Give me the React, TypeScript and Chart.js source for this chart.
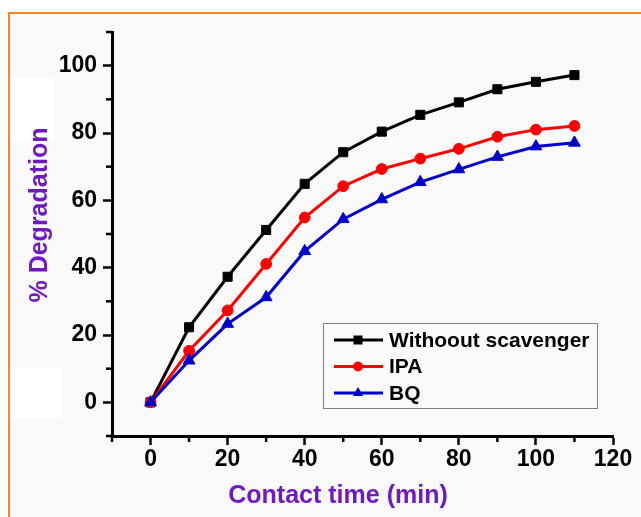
import React, { useEffect, useRef } from "react";
import { Chart, registerables } from "chart.js";

Chart.register(...registerables);

const contactTime = [0, 10, 20, 30, 40, 50, 60, 70, 80, 90, 100, 110];
const withoutScavenger = [0, 22.3, 37.3, 51.2, 64.9, 74.3, 80.4, 85.4, 89.1, 93.0, 95.2, 97.2];
const ipa = [0, 15.3, 27.3, 41.1, 54.9, 64.2, 69.3, 72.4, 75.3, 78.9, 81.0, 82.1];
const bq = [0, 12.4, 23.3, 31.2, 44.9, 54.4, 60.3, 65.4, 69.2, 72.9, 76.0, 77.1];
const seriesNames = ["Withoout scavenger", "IPA", "BQ"];
const seriesColors = ["#000000", "#ff0000", "#0000cc"];
const seriesMarkers = ["rect", "circle", "triangle"];
const markerRadius = [6.4, 5.4, 6.8];

const xTitle = "Contact time (min)";
const yTitle = "% Degradation";
const PURPLE = "#7019c2";
const FONT = "'Liberation Sans', Arial, sans-serif";

const backgroundPlugin = {
  id: "bg",
  beforeDraw(chart: any) {
    const { ctx, width, height } = chart;
    ctx.save();
    ctx.fillStyle = "#ffffff";
    ctx.fillRect(0, 0, width, height);
    ctx.fillStyle = "#f9f9f9";
    ctx.fillRect(10, 14, width - 10, height - 14);
    ctx.fillStyle = "#ffffff";
    ctx.fillRect(11, 78, 43, 63);
    ctx.fillRect(11, 368, 52, 50);
    ctx.strokeStyle = "#f5862a";
    ctx.lineWidth = 2;
    ctx.beginPath();
    ctx.moveTo(9, height);
    ctx.lineTo(9, 13);
    ctx.lineTo(width, 13);
    ctx.stroke();
    ctx.restore();
  },
};

const minorTicksPlugin = {
  id: "minorTicks",
  afterDraw(chart: any) {
    const { ctx, chartArea } = chart;
    const xs = chart.scales.x;
    const ys = chart.scales.y;
    ctx.save();
    ctx.strokeStyle = "#000";
    ctx.lineWidth = 2.5;
    for (let v = xs.min; v <= xs.max; v += 10) {
      if (v % 20 === 0) continue;
      const px = xs.getPixelForValue(v);
      ctx.beginPath();
      ctx.moveTo(px, chartArea.bottom);
      ctx.lineTo(px, chartArea.bottom + 6);
      ctx.stroke();
    }
    for (let v = ys.min; v <= ys.max; v += 10) {
      if (v % 20 === 0) continue;
      const py = ys.getPixelForValue(v);
      ctx.beginPath();
      ctx.moveTo(chartArea.left, py);
      ctx.lineTo(chartArea.left - 6, py);
      ctx.stroke();
    }
    ctx.restore();
  },
};

const titlesPlugin = {
  id: "titles",
  afterDraw(chart: any) {
    const { ctx } = chart;
    ctx.save();
    ctx.fillStyle = PURPLE;
    ctx.font = `bold 25px ${FONT}`;
    ctx.textAlign = "center";
    ctx.textBaseline = "middle";
    ctx.fillText(xTitle, 338, 496);
    ctx.translate(40, 215);
    ctx.rotate(-Math.PI / 2);
    ctx.fillText(yTitle, 0, 0);
    ctx.restore();
  },
};

function drawMarker(ctx: CanvasRenderingContext2D, style: string, x: number, y: number) {
  ctx.beginPath();
  if (style === "rect") {
    ctx.rect(x - 4.5, y - 4.5, 9, 9);
  } else if (style === "circle") {
    ctx.arc(x, y, 5, 0, Math.PI * 2);
  } else {
    const r = 6;
    ctx.moveTo(x, y - r);
    ctx.lineTo(x + r * 0.866, y + r * 0.5);
    ctx.lineTo(x - r * 0.866, y + r * 0.5);
    ctx.closePath();
  }
  ctx.fill();
}

const legendPlugin = {
  id: "customLegend",
  afterDraw(chart: any) {
    const { ctx } = chart;
    const bx = 323.5, by = 323.5, bw = 274, bh = 85;
    ctx.save();
    ctx.fillStyle = "#f9f9f9";
    ctx.fillRect(bx, by, bw, bh);
    ctx.strokeStyle = "#808080";
    ctx.lineWidth = 1;
    ctx.strokeRect(bx, by, bw, bh);
    chart.data.datasets.forEach((ds: any, i: number) => {
      const y = 340 + i * 26.5;
      ctx.strokeStyle = ds.borderColor;
      ctx.lineWidth = ds.borderWidth;
      ctx.beginPath();
      ctx.moveTo(334, y);
      ctx.lineTo(383, y);
      ctx.stroke();
      ctx.fillStyle = ds.pointBackgroundColor;
      drawMarker(ctx, ds.pointStyle, 358, y);
      ctx.fillStyle = "#000";
      ctx.font = `bold 21px ${FONT}`;
      ctx.textAlign = "left";
      ctx.textBaseline = "middle";
      ctx.fillText(ds.label, 389, y + 1);
    });
    ctx.restore();
  },
};

export default function App() {
  const ref = useRef<HTMLCanvasElement>(null);
  useEffect(() => {
    if (!ref.current) return;
    const seriesData = [withoutScavenger, ipa, bq];
    const chart = new Chart(ref.current, {
      type: "line",
      data: {
        labels: contactTime,
        datasets: seriesData.map((vals, i) => ({
          label: seriesNames[i],
          data: contactTime.map((t, j) => ({ x: t, y: vals[j] })),
          borderColor: seriesColors[i],
          backgroundColor: seriesColors[i],
          pointBackgroundColor: seriesColors[i],
          pointBorderColor: seriesColors[i],
          pointStyle: seriesMarkers[i],
          pointRadius: markerRadius[i],
          pointBorderWidth: 1,
          borderWidth: 3,
          tension: 0,
          fill: false,
          order: 3 - i,
        })),
      },
      options: {
        animation: false,
        responsive: false,
        events: [],
        layout: { padding: { left: 0, top: 32, right: 28, bottom: 0 } },
        plugins: { legend: { display: false }, tooltip: { enabled: false } },
        scales: {
          x: {
            type: "linear",
            min: -10,
            max: 120,
            afterFit: (s: any) => { s.height = 81; },
            afterBuildTicks: (s: any) => { s.ticks = s.ticks.filter((t: any) => t.value % 20 === 0); },
            ticks: { stepSize: 10, color: "#000", font: { family: FONT, size: 23, weight: "bold" }, padding: 1, maxRotation: 0 },
            grid: { drawOnChartArea: false, drawTicks: true, tickLength: 9, tickWidth: 2.5, tickColor: "#000" },
            border: { color: "#000", width: 3 },
          },
          y: {
            type: "linear",
            min: -10,
            max: 110,
            afterFit: (s: any) => { s.width = 112; },
            afterBuildTicks: (s: any) => { s.ticks = s.ticks.filter((t: any) => t.value % 20 === 0); },
            ticks: { stepSize: 10, color: "#000", font: { family: FONT, size: 23, weight: "bold" }, padding: 6 },
            grid: { drawOnChartArea: false, drawTicks: true, tickLength: 9, tickWidth: 2.5, tickColor: "#000" },
            border: { color: "#000", width: 3 },
          },
        },
      },
      plugins: [backgroundPlugin, minorTicksPlugin, titlesPlugin, legendPlugin],
    } as any);
    return () => chart.destroy();
  }, []);
  return (
    <div style={{ position: "absolute", left: 0, top: 0, width: 641, height: 517 }}>
      <canvas ref={ref} width={641} height={517} style={{ display: "block" }} />
    </div>
  );
}
